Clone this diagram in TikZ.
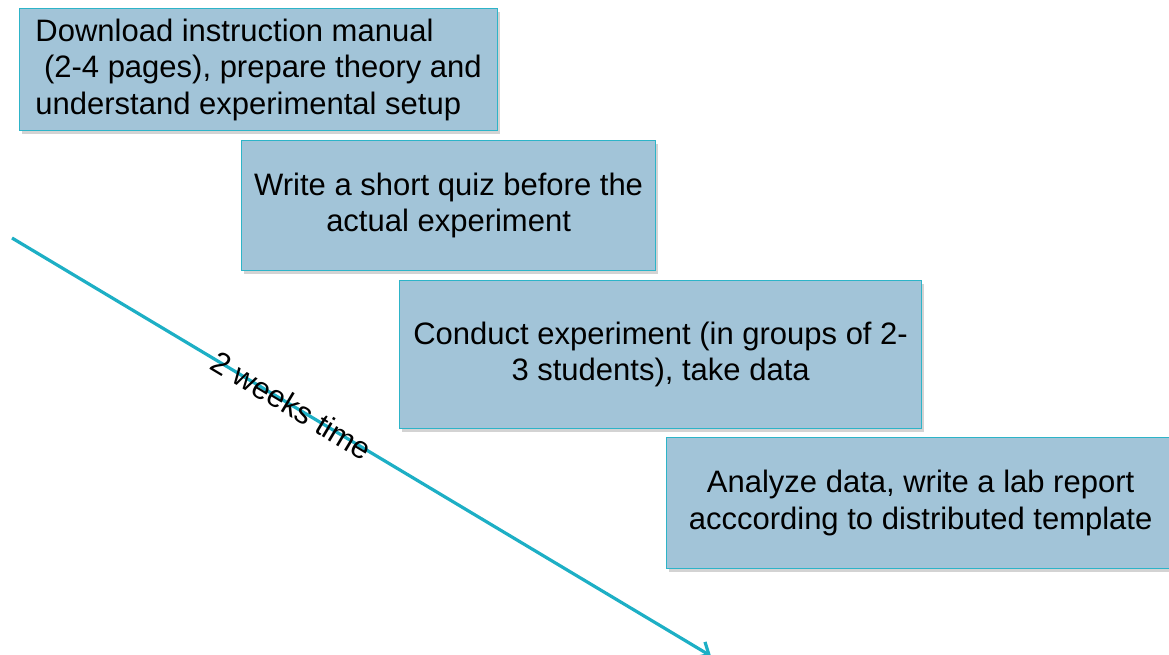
\documentclass[tikz,border=0pt]{standalone}
\usepackage{fontspec}
\setmainfont{Liberation Sans}
\usetikzlibrary{shadows,arrows.meta}
\definecolor{boxfill}{HTML}{A2C4D8}
\definecolor{boxline}{HTML}{2DB4C8}
\definecolor{timeline}{HTML}{1DAFC5}
\begin{document}
\begin{tikzpicture}[x=1pt,y=-1pt,
  stepbox/.style={rectangle, draw=boxline, line width=1.2pt, fill=boxfill,
    anchor=north west, inner sep=0pt, font=\fontsize{31}{36.5}\selectfont,
    drop shadow={shadow xshift=2pt, shadow yshift=-3pt, opacity=0.35, fill=gray}},
  timearrow/.style={draw=timeline, line width=3.2pt,
    -{Straight Barb[length=10pt,width=18pt,line width=3.2pt]}}]
\useasboundingbox (0,0) rectangle (1169,654);

% four stages of the lab work
\node[stepbox, minimum width=478pt, minimum height=122pt, align=left]
  (s1) at (19,8) {Download instruction manual\\ \ (2-4 pages), prepare theory and\\understand experimental setup};
\node[stepbox, minimum width=414pt, minimum height=130pt, align=center]
  (s2) at (241,140) {Write a short quiz before the\\actual experiment};
\node[stepbox, minimum width=522pt, minimum height=148pt, align=center]
  (s3) at (399,280) {Conduct experiment (in groups of 2-\\3 students), take data};
\node[stepbox, minimum width=508pt, minimum height=131pt, align=center]
  (s4) at (666,437) {Analyze data, write a lab report\\acccording to distributed template};

% time axis
\coordinate (t0) at (12,238);
\coordinate (t1) at (711,656);
\draw[timearrow] (t0) -- (t1)
  node[pos=0.40, sloped, font=\fontsize{31}{34}\selectfont, text=black] (tl) {2 weeks time};
\end{tikzpicture}
\end{document}
